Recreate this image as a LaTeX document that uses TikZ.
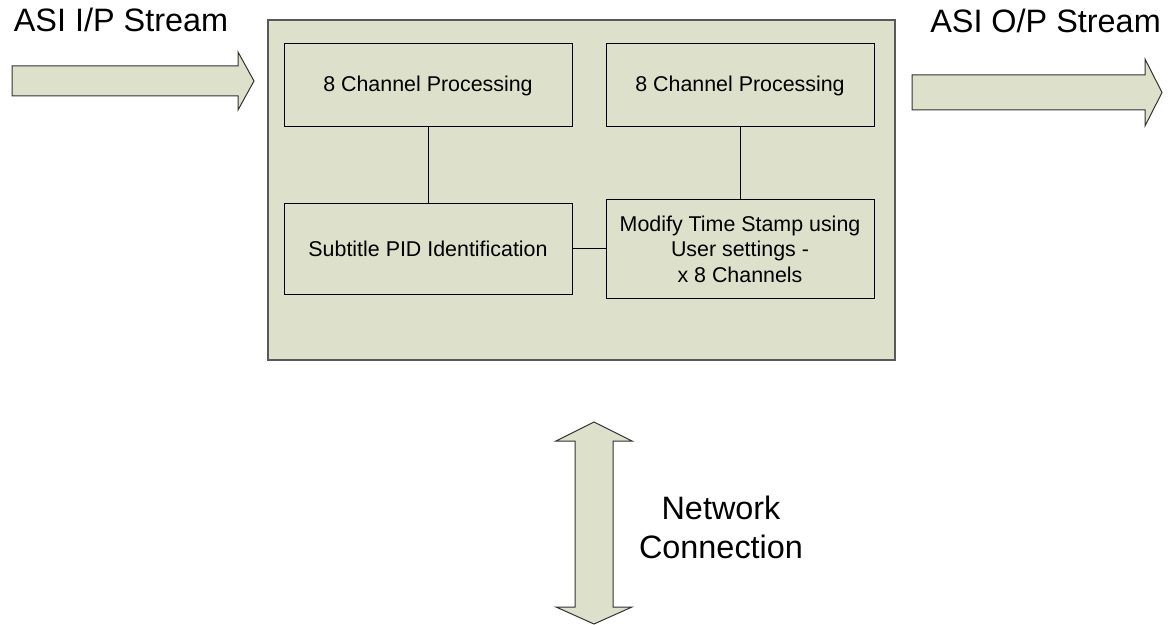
\documentclass[tikz,border=0pt]{standalone}
\usepackage{fontspec}
\setmainfont{Liberation Sans}
\usepackage{tikz}
\usetikzlibrary{positioning}
\definecolor{boxfill}{RGB}{221,224,203}

\begin{document}
\begin{tikzpicture}[x=0.5pt,y=-0.5pt,
  stage/.style={shape=rectangle,draw=black,line width=0.5pt,fill=boxfill,align=center,inner sep=0pt,font=\fontsize{10.7}{12.7}\selectfont},
  flow/.style={draw=black!80,line width=0.5pt,fill=boxfill,line join=miter},
  streamtext/.style={font=\fontsize{16.2}{19.5}\selectfont,align=center}]
\fill[white] (0,0) rectangle (1170,625);
\useasboundingbox (0,0) rectangle (1170,625);
% processing board
\node[draw=black!65,line width=1pt,fill=boxfill,minimum width=313.5pt,minimum height=170pt] (board) at (581.5,190) {};
\node[stage,minimum width=144pt,minimum height=41.5pt] (chanA) at (428,85.5) {8 Channel Processing};
\node[stage,minimum width=134pt,minimum height=41.5pt,right=16.5pt of chanA] (chanB) {8 Channel Processing};
\node[stage,minimum width=144pt,minimum height=45pt,below=38pt of chanA] (pid) {Subtitle PID Identification};
\node[stage,minimum width=134pt,minimum height=49pt] (stamp) at (chanB |- pid) {Modify Time Stamp using\\User settings -\\x 8 Channels};
\draw[line width=0.5pt] (chanA) -- (pid);
\draw[line width=0.5pt] (chanB) -- (stamp);
\draw[line width=0.5pt] (pid) -- (stamp);
% streams
\filldraw[flow] (12,66) -- (238,66) -- (238,52) -- (254,81) -- (238,110) -- (238,96) -- (12,96) -- cycle;
\filldraw[flow] (912,75) -- (1145,75) -- (1145,59) -- (1162,92.5) -- (1145,126) -- (1145,110) -- (912,110) -- cycle;
\filldraw[flow] (594,422) -- (632,441) -- (613,441) -- (613,607) -- (632,607) -- (594,624) -- (556,607) -- (575,607) -- (575,441) -- (556,441) -- cycle;
\node[streamtext,anchor=base] (inlabel) at (121,32) {ASI I/P Stream};
\node[streamtext,anchor=base] (outlabel) at (1045.5,33) {ASI O/P Stream};
\node[streamtext] (netlabel) at (721,527) {Network\\Connection};
\end{tikzpicture}
\end{document}
